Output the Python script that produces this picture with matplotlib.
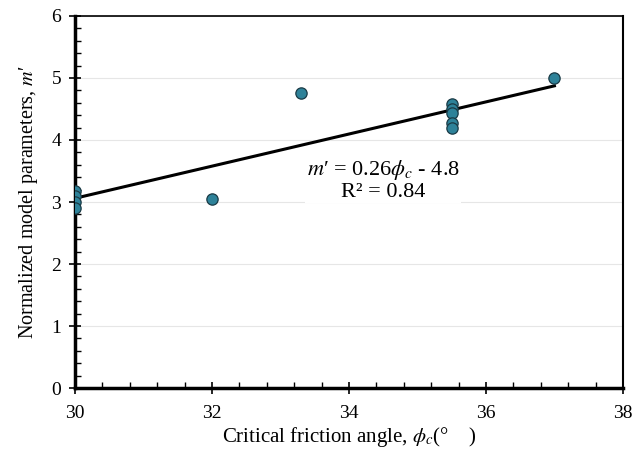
import matplotlib
matplotlib.use("Agg")
import matplotlib.pyplot as plt
from matplotlib.ticker import MultipleLocator
import numpy as np

plt.rcParams['font.family'] = ['Liberation Serif', 'DejaVu Serif']
plt.rcParams['mathtext.fontset'] = 'stix'

# data
phi_c = [30, 30, 30, 30, 32, 33.3, 35.5, 35.5, 35.5, 35.5, 35.5, 37]
m_prime = [3.18, 3.1, 3.0, 2.9, 3.05, 4.75, 4.58, 4.5, 4.43, 4.28, 4.2, 5.0]
trend_slope = 0.259
trend_intercept = -4.71
trend_range = [30, 37]
eq_text = "$m$\u2032 = 0.26$\\phi_c$ - 4.8\nR² = 0.84"

fig = plt.figure(figsize=(6.35, 4.55), dpi=100)
ax = fig.add_axes([0.118, 0.147, 0.863, 0.818])

ax.grid(axis='y', color='#e6e6e6', linewidth=0.8, zorder=0)
xs = np.array(trend_range)
ax.plot(xs, trend_slope * xs + trend_intercept, color='black', linewidth=2.2, zorder=2)
ax.scatter(phi_c, m_prime, s=66, color='#2E8299', edgecolor='#1a3a45', linewidth=0.9, zorder=3)

ax.set_xlim(30, 38)
ax.set_ylim(0, 6)
ax.xaxis.set_major_locator(MultipleLocator(2))
ax.xaxis.set_minor_locator(MultipleLocator(0.4))
ax.yaxis.set_major_locator(MultipleLocator(1))
ax.yaxis.set_minor_locator(MultipleLocator(0.2))
ax.tick_params(which='major', direction='inout', length=8, width=1.2, labelsize=14)
ax.tick_params(which='minor', direction='in', length=4, width=1)
ax.tick_params(axis='x', pad=8)
ax.tick_params(axis='y', pad=6)

for s in ['left', 'bottom']:
    ax.spines[s].set_linewidth(2.5)
ax.spines['right'].set_linewidth(1.5)
ax.spines['top'].set_linewidth(1.2)

ax.set_xlabel("Critical friction angle, $\\phi_c$(°    )", fontsize=15, labelpad=2)
ax.set_ylabel("Normalized model parameters, $m$\u2032", fontsize=14.5, labelpad=8)

ax.text(34.5, 3.35, eq_text, fontsize=16, ha='center', va='center', zorder=4,
        multialignment='center', linespacing=1.05,
        bbox=dict(facecolor='white', edgecolor='none', pad=1))

fig.savefig("out.png", dpi=100)
